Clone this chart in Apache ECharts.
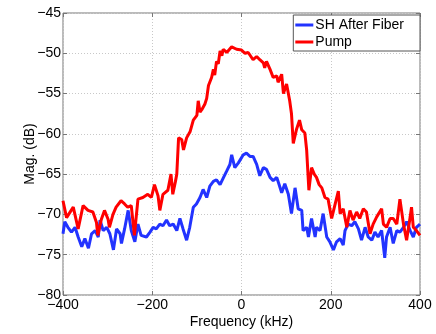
<!DOCTYPE html>
<html lang="en">
<head>
<meta charset="UTF-8">
<title>SH After Fiber vs Pump</title>
<script src="https://cdn.jsdelivr.net/npm/echarts@6.0.0/dist/echarts.min.js"></script>
<style>
  html, body { margin: 0; padding: 0; background: #fff; }
  #chart { width: 436px; height: 334px; }
</style>
</head>
<body>
<div id="chart"></div>
<script>
// spectrum data (kHz, dB)
var shFreq = [-400, -396, -389, -381, -373, -366, -358, -351, -343, -336, -328, -321, -317, -310, -302, -295, -287, -280, -272, -269,
  -262, -254, -247, -239, -232, -225, -213, -205, -198, -191, -183, -176, -168, -161, -153, -145, -138, -131, -123, -116,
  -108, -101, -93, -86, -78, -71, -63, -56, -48, -41, -33, -26, -22, -15, -7, -3, 4, 11, 19, 26,
  34, 41, 49, 56, 64, 71, 79, 86, 90, 97, 105, 112, 120, 127, 135, 138, 146, 150, 157, 165,
  168, 176, 183, 191, 198, 206, 213, 221, 228, 232, 239, 247, 254, 262, 269, 277, 284, 292, 299, 306,
  314, 321, 325, 333, 340, 348, 355, 363, 370, 378, 385, 392, 400];
var shMag = [-72.4, -70.9, -71.6, -72.2, -71.6, -72.8, -74, -73, -74.2, -72.4, -72, -72.8, -70.7, -72, -71.6, -72.4, -74.4, -71.8, -72.4, -73.6,
  -71.8, -69.5, -72, -73.4, -71.2, -72.6, -72.8, -72.2, -71.6, -71.8, -71.2, -71.4, -70.7, -71.4, -71.2, -72, -70.5, -71.8, -73.2, -71.6,
  -69.1, -68.7, -67.9, -66.9, -67.9, -66.5, -65.9, -65.7, -66.3, -65.5, -64.6, -63.8, -62.6, -64.2, -63.6, -63.4, -62.6, -62.4, -62.8, -62.8,
  -63.8, -65.2, -64.2, -64.4, -65.4, -65.8, -65.4, -66.6, -67.3, -66.2, -67.5, -69.9, -66.7, -69.3, -69.5, -72, -71.6, -72.8, -70.5, -72.8,
  -71.6, -72, -69.9, -72.8, -73.4, -74.4, -73.4, -73, -73.8, -72, -71.2, -71.4, -70.9, -71.8, -73.2, -71.6, -72.8, -73.2, -72.2, -72.8,
  -72, -75.4, -72.8, -71.6, -73.6, -72, -72.2, -71.6, -70.9, -72, -72.8, -71.6, -71.2];

var pumpFreq = [-400, -392, -377, -366, -355, -344, -333, -325, -322, -314, -307, -299, -296, -288, -281, -270, -262, -255, -247, -240,
  -232, -221, -210, -202, -195, -187, -183, -176, -165, -158, -154, -148, -145, -141, -134, -130, -123, -115, -108, -100,
  -97, -93, -89, -82, -78, -74, -67, -63, -60, -56, -52, -48, -44, -41, -33, -22, -11, 0, 8, 15,
  26, 34, 41, 49, 52, 56, 64, 71, 79, 82, 90, 94, 101, 105, 108, 112, 116, 123, 130, 135,
  142, 146, 151, 157, 163, 168, 174, 180, 187, 194, 202, 209, 217, 221, 228, 236, 243, 250, 258, 265,
  273, 280, 288, 295, 303, 314, 318, 325, 333, 340, 348, 355, 363, 370, 378, 381, 385, 392, 400];
var pumpMag = [-68.3, -70.4, -69.1, -71.8, -68.9, -69.5, -69.7, -71, -72.6, -70.6, -69.5, -70.6, -71.6, -70, -69.1, -68.3, -68.7, -69.1, -68.9, -72.6,
  -68.1, -67.9, -67.5, -67.9, -66.3, -67.7, -69.5, -67.5, -67, -65, -67.5, -65.9, -65, -60.5, -60.7, -62, -60.5, -59.7, -58.3, -57.7,
  -55.9, -57.3, -57, -56.3, -55.6, -54, -53, -52, -52.7, -51, -51.3, -49.7, -50.3, -49.5, -49.9, -49.2, -49.5, -49.6, -50, -49.9,
  -50.8, -50.4, -50.8, -51.2, -51.8, -51, -52, -53, -52.8, -53.6, -52.6, -55, -53.8, -55, -55.9, -57.5, -61.2, -59.5, -58.3, -59.5,
  -59.9, -62, -67, -64.2, -65, -65.4, -66.3, -66.7, -67.9, -68.1, -70.5, -68.9, -67.1, -69.9, -69.3, -71.6, -69.5, -70.7, -69.7, -70.5,
  -69.3, -69.7, -72.4, -71.2, -70.3, -69.3, -71.2, -71.6, -70.5, -70.5, -71.2, -68.1, -71.2, -73.2, -70.3, -69.1, -71.6, -72, -72.6];

function pairs(xs, ys) {
  return xs.map(function (x, i) { return [x, ys[i]]; });
}
function minus(v) { return String(v).replace('-', '\u2212'); }

var font = 'Liberation Sans, Arial, sans-serif';
var axisGrey = '#777';
var gridLine = { show: true, lineStyle: { color: '#c8c8c8', type: [1, 2], width: 1 } };
var tick = { inside: true, length: 4, lineStyle: { color: axisGrey } };

var chart = echarts.init(document.getElementById('chart'), null, { renderer: 'canvas' });
chart.setOption({
  animation: false,
  backgroundColor: '#fff',
  grid: { left: 63, right: 16, top: 13, bottom: 35, show: true, borderColor: axisGrey, borderWidth: 1 },
  legend: {
    orient: 'vertical', right: 16, top: 15,
    backgroundColor: '#fff', borderColor: '#555', borderWidth: 1,
    padding: [3, 16, 2, 2], itemGap: 3,
    itemWidth: 18, itemHeight: 3, icon: 'rect',
    textStyle: { fontFamily: font, fontSize: 14, color: '#000', padding: [0, 0, 0, -3] },
    data: ['SH After Fiber', 'Pump']
  },
  xAxis: [{
    type: 'value', min: -400, max: 400, interval: 200,
    name: 'Frequency (kHz)', nameLocation: 'middle', nameGap: 20, nameMoveOverlap: false,
    nameTextStyle: { fontFamily: font, fontSize: 14, color: '#000' },
    axisLine: { show: false },
    axisTick: tick,
    axisLabel: { fontFamily: font, fontSize: 14, color: '#000', margin: 3, formatter: minus },
    splitLine: gridLine
  }, {
    type: 'value', position: 'top', min: -400, max: 400, interval: 200,
    axisLine: { show: false, onZero: false }, axisLabel: { show: false }, splitLine: { show: false },
    axisTick: tick
  }],
  yAxis: [{
    type: 'value', min: -80, max: -45, interval: 5,
    name: 'Mag. (dB)', nameLocation: 'middle', nameGap: 26, nameRotate: 90, nameMoveOverlap: false,
    nameTextStyle: { fontFamily: font, fontSize: 14, color: '#000' },
    axisLine: { show: false, onZero: false },
    axisTick: tick,
    axisLabel: { fontFamily: font, fontSize: 14, color: '#000', margin: 2, formatter: minus },
    splitLine: gridLine
  }, {
    type: 'value', position: 'right', min: -80, max: -45, interval: 5,
    axisLine: { show: false, onZero: false }, axisLabel: { show: false }, splitLine: { show: false },
    axisTick: tick
  }],
  series: [{
    name: 'SH After Fiber', type: 'line', showSymbol: false,
    color: '#2233ff',
    lineStyle: { width: 3, color: '#2233ff' },
    data: pairs(shFreq, shMag)
  }, {
    name: 'Pump', type: 'line', showSymbol: false,
    color: '#ff0000',
    lineStyle: { width: 3, color: '#ff0000' },
    data: pairs(pumpFreq, pumpMag)
  }]
});
</script>
</body>
</html>
